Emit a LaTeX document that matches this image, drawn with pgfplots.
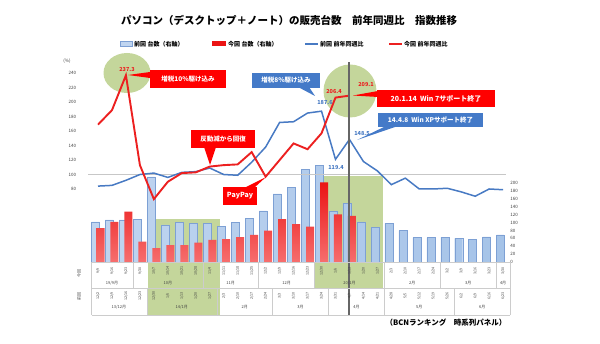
\documentclass[border=0pt]{standalone}
\usepackage{fontspec}
\setmainfont{Noto Sans CJK JP}
\usepackage{pgfplots}
\pgfplotsset{compat=1.18}
\usepackage{pgfplotstable}
\definecolor{bbar}{RGB}{192,213,240}
\definecolor{bbarD}{RGB}{165,195,232}
\definecolor{bbarline}{RGB}{125,160,212}
\definecolor{rbarT}{RGB}{235,20,20}
\definecolor{rbarB}{RGB}{246,110,110}
\definecolor{rline}{RGB}{236,32,32}
\definecolor{bline}{RGB}{72,122,195}
\definecolor{grn}{RGB}{196,214,155}
\definecolor{boxblue}{RGB}{68,122,200}
\newcommand\fs[1]{\fontsize{#1}{#1}\selectfont}

\pgfplotstableread{
i v
0 102
1 107
2 107
3 109
4 216
5 94
6 101
7 98
8 99
9 91
10 100
11 111
12 130
13 173
14 190
15 236
16 246
17 128
18 149
19 102
20 88
21 98
22 80
23 62
24 62
25 63
26 60
27 58
28 64
29 69
}\prevbars
\pgfplotstableread{
i v
0 86
1 102
2 128
3 52
4 35
5 43
6 43
7 49
8 56
9 58
10 63
11 69
12 80
13 109
14 96
15 90
16 202
17 121
18 117
}\currbars
\pgfplotstableread{
i v
0 84
1 85
2 92
3 100
4 102
5 96
6 103
7 104
8 109
9 100
10 99
11 117
12 138
13 172
14 173
15 185
16 187.6
17 121
18 148.5
19 118
20 105
21 86
22 95
23 80
24 80
25 81
26 76
27 70
28 80
29 79
}\prevline
\pgfplotstableread{
i v
0 169
1 189
2 237.3
3 113
4 66
5 90
6 102
7 103
8 111
9 113
10 114
11 131
12 97
13 120
14 143
15 135
16 157
17 206.4
18 209.1
}\currline

\begin{document}
\begin{tikzpicture}
\useasboundingbox (0pt,0pt) rectangle (600pt,343pt);
\begin{scope}[x=1pt,y=1pt]
% green highlights
\fill[grn] (148,28) rectangle (220,124);
\fill[grn] (315,55) rectangle (383,167);
\fill[grn] (127,270) ellipse [x radius=23.5, y radius=20];
\fill[grn] (350,252) circle [radius=26.5];
\end{scope}

% bars, right axis
\begin{axis}[at={(88.22pt,81pt)}, anchor=south west, scale only axis,
  width=417.7pt, height=200pt,
  xmin=-0.7, xmax=29.2, ymin=0, ymax=508,
  axis line style={draw=none}, xtick=\empty,
  ytick={0,20,...,200}, ytick pos=right, major tick length=0pt,
  /pgf/number format/assume math mode=true,
  yticklabel style={font=\fs{4.5}, text=black!75, xshift=1pt},
  clip=false]
\addplot[ybar, bar width=8pt, bar shift=-2.5pt, draw=bbarline, line width=0.4pt,
  left color=bbar, right color=bbarD] table[x=i,y=v] {\prevbars};
\addplot[ybar, bar width=8pt, bar shift=2.5pt, draw=none,
  top color=rbarT, bottom color=rbarB] table[x=i,y=v] {\currbars};
\end{axis}

% lines, left axis
\begin{axis}[at={(88.22pt,81pt)}, anchor=south west, scale only axis,
  width=417.7pt, height=200pt,
  xmin=-0.7, xmax=29.2, ymin=-20.95, ymax=255.6,
  axis line style={draw=none}, xtick=\empty,
  ytick={80,100,...,240}, ytick pos=left, major tick length=0pt,
  /pgf/number format/assume math mode=true,
  yticklabel style={font=\fs{4.5}, text=black!75, xshift=-8.5pt},
  clip=false]
\draw[black!22, line width=1.4pt] (axis cs:-0.7,100) -- (axis cs:29.2,100);
\addplot[bline, line width=1.5pt, mark=none] table[x=i,y=v] {\prevline};
\addplot[rline, line width=1.9pt, mark=none] table[x=i,y=v] {\currline};
\end{axis}

\begin{scope}[x=1pt,y=1pt]
% vertical marker line
\draw[black!60, line width=1.1pt] (349,28) -- (349,281);

% axis unit label
\node[font=\fs{4.5}, text=black!75] at (67,282) {(\%)};

% title
\node[font=\bfseries\fs{10.5}] at (289,323) {パソコン（デスクトップ＋ノート）の販売台数　前年同週比　指数推移};

% legend
\filldraw[fill=bbar, draw=bbarline, line width=0.4pt] (120,296.5) rectangle (132,301.5);
\node[anchor=west, font=\bfseries\fs{6}, inner sep=1pt] at (133,299) {前回 台数（右軸）};
\fill[rbarT] (212,296.5) rectangle (226,301.5);
\node[anchor=west, font=\bfseries\fs{6}, inner sep=1pt] at (227,299) {今回 台数（右軸）};
\draw[bline, line width=1.3pt] (305,299) -- (318,299);
\node[anchor=west, font=\bfseries\fs{6}, inner sep=1pt] at (319,299) {前回 前年同週比};
\draw[rline, line width=1.3pt] (389,299) -- (402,299);
\node[anchor=west, font=\bfseries\fs{6}, inner sep=1pt] at (403,299) {今回 前年同週比};

% callouts
\fill[red] (150,271) -- (150,265) -- (128,268) -- cycle;
\node[fill=red, text=white, font=\bfseries\fs{6.5}, minimum width=76pt, minimum height=18pt, inner sep=0pt] at (188,264) {増税10\%駆け込み};
\fill[red] (204,196) -- (216,196) -- (210,178) -- cycle;
\node[fill=red, text=white, font=\bfseries\fs{6.5}, minimum width=64pt, minimum height=18pt, inner sep=0pt] at (223,204) {反動減から回復};
\fill[red] (244,155) -- (254,155) -- (266,166) -- cycle;
\node[fill=red, text=white, font=\bfseries\fs{7}, minimum width=34pt, minimum height=18pt, inner sep=0pt] at (240,147) {PayPay};
\fill[boxblue] (298,256) -- (309,256) -- (315,247) -- cycle;
\node[fill=boxblue, text=white, font=\bfseries\fs{6.5}, minimum width=68pt, minimum height=15pt, inner sep=0pt] at (286,262.5) {増税8\%駆け込み};
\fill[red] (378,252) -- (378,246) -- (353,247.5) -- cycle;
\node[fill=red, text=white, font=\bfseries\fs{7}, minimum width=118pt, minimum height=17pt, inner sep=0pt] at (436,244.5) {20.1.14\ \ Win 7サポート終了};
\fill[boxblue] (386,217) -- (398,217) -- (357,203) -- cycle;
\node[fill=boxblue, text=white, font=\bfseries\fs{6.5}, minimum width=105pt, minimum height=14pt, inner sep=0pt] at (430.5,223) {14.4.8\ \ Win XPサポート終了};

% data labels
\node[font=\bfseries\fs{5.5}, text=rline] at (127,273) {237.3};
\node[font=\bfseries\fs{5.5}, text=rline] at (334,251) {206.4};
\node[font=\bfseries\fs{5.5}, text=rline] at (366,258) {209.1};
\node[font=\bfseries\fs{5.5}, text=bline] at (325,240) {187.6};
\node[font=\bfseries\fs{5.5}, text=bline] at (362,209) {148.5};
\node[font=\bfseries\fs{5.5}, text=bline] at (336,175) {119.4};

% table
\foreach \yy in {81,55,28} \draw[black!20, line width=0.4pt] (92,\yy) -- (510,\yy);
\foreach \b in {-0.5,2.5,7.5,11.5,15.5,20.5,24.5,28.5,29.5}
  \draw[black!20, line width=0.4pt] ({98+13.97*\b},55) -- ({98+13.97*\b},81);
\foreach \b in {-0.5,3.5,8.5,12.5,16.5,20.5,25.5,29.5}
  \draw[black!20, line width=0.4pt] ({98+13.97*\b},28) -- ({98+13.97*\b},55);
\foreach \d [count=\k from 0] in {{9/9},{9/16},{9/23},{9/30},{10/7},{10/14},{10/21},{10/28},{11/4},{11/11},{11/18},{11/25},{12/2},{12/9},{12/16},{12/23},{12/30},{1/6},{1/13},{1/20},{1/27},{2/3},{2/10},{2/17},{2/24},{3/2},{3/9},{3/16},{3/23},{3/30}}
  \node[rotate=90, font=\fs{3.6}, text=black!75, inner sep=0pt] at ({98+13.97*\k},72) {\d};
\foreach \d [count=\k from 0] in {{12/2},{12/9},{12/16},{12/23},{12/30},{1/6},{1/13},{1/20},{1/27},{2/3},{2/10},{2/17},{2/24},{3/3},{3/10},{3/17},{3/24},{3/31},{4/7},{4/14},{4/21},{4/28},{5/5},{5/12},{5/19},{5/26},{6/2},{6/9},{6/16},{6/23}}
  \node[rotate=90, font=\fs{3.6}, text=black!75, inner sep=0pt] at ({98+13.97*\k},47) {\d};
\node[font=\fs{4}, text=black!75] at ({98+13.97*1},60) {19/9月};
\node[font=\fs{4}, text=black!75] at ({98+13.97*5},60) {10月};
\node[font=\fs{4}, text=black!75] at ({98+13.97*9.5},60) {11月};
\node[font=\fs{4}, text=black!75] at ({98+13.97*13.5},60) {12月};
\node[font=\fs{4}, text=black!75] at ({98+13.97*18},60) {20/1月};
\node[font=\fs{4}, text=black!75] at ({98+13.97*22.5},60) {2月};
\node[font=\fs{4}, text=black!75] at ({98+13.97*26.5},60) {3月};
\node[font=\fs{4}, text=black!75] at ({98+13.97*29},60) {4月};
\node[font=\fs{4}, text=black!75] at ({98+13.97*1.5},36) {13/12月};
\node[font=\fs{4}, text=black!75] at ({98+13.97*6},36) {14/1月};
\node[font=\fs{4}, text=black!75] at ({98+13.97*10.5},36) {2月};
\node[font=\fs{4}, text=black!75] at ({98+13.97*14.5},36) {3月};
\node[font=\fs{4}, text=black!75] at ({98+13.97*18.5},36) {4月};
\node[font=\fs{4}, text=black!75] at ({98+13.97*23},36) {5月};
\node[font=\fs{4}, text=black!75] at ({98+13.97*27.5},36) {6月};
\node[rotate=90, font=\fs{4}, text=black!75] at (79,69) {今回};
\node[rotate=90, font=\fs{4}, text=black!75] at (79,46) {前回};

\node[font=\bfseries\fs{7.5}] at (446,20) {（BCNランキング　時系列パネル）};
\end{scope}
\end{tikzpicture}
\end{document}
